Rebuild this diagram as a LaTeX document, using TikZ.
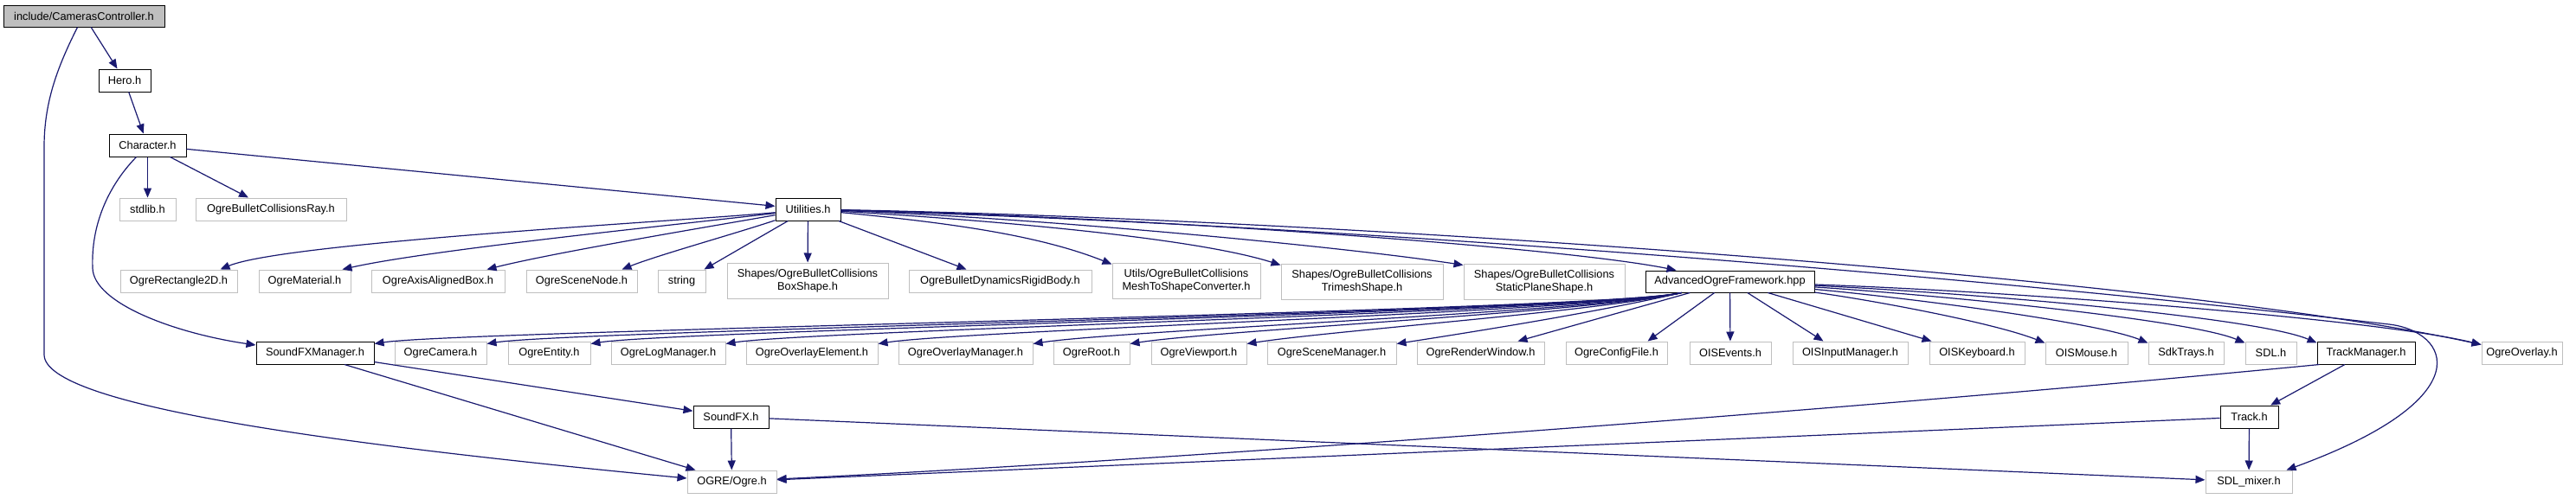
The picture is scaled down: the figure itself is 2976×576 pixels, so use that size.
\documentclass[tikz,border=0pt]{standalone}
\usepackage{fontspec}
\setmainfont{Liberation Sans}
\usetikzlibrary{arrows.meta,calc}
\definecolor{edgec}{HTML}{191970}
\definecolor{greyb}{HTML}{BFBFBF}
\begin{document}
\begin{tikzpicture}[x=1pt,y=-1pt,
  nb/.style={draw=black,line width=1.0pt,fill=white,inner sep=0pt,align=center,font=\fontsize{12.8}{15.5}\selectfont},
  gb/.style={nb,draw=greyb,line width=1.0pt},
  rootb/.style={nb,fill=greyb},
  e/.style={draw=edgec,line width=1.2pt,-{Triangle[length=11pt,width=9pt]}}]
\useasboundingbox[fill=white] (0,0) rectangle (2976,576);
% rows 0-3
\node[rootb,minimum width=186pt,minimum height=25pt] (cam) at (97,18.5) {include/CamerasController.h};
\node[nb,minimum width=60pt,minimum height=26pt] (hero) at (144,93) {Hero.h};
\node[nb,minimum width=89pt,minimum height=26pt] (chr) at (170.5,168) {Character.h};
\node[gb,minimum width=65pt,minimum height=26pt] (stdlib) at (170.5,242) {stdlib.h};
\node[gb,minimum width=174pt,minimum height=26pt] (ray) at (313,242) {OgreBulletCollisionsRay.h};
\node[nb,minimum width=75pt,minimum height=26pt] (util) at (933.5,242) {Utilities.h};
% row 4
\node[gb,minimum width=135pt,minimum height=26pt] (r2d) at (206.5,325) {OgreRectangle2D.h};
\node[gb,minimum width=106pt,minimum height=26pt] (mat) at (352,325) {OgreMaterial.h};
\node[gb,minimum width=154pt,minimum height=26pt] (aab) at (506,325) {OgreAxisAlignedBox.h};
\node[gb,minimum width=128pt,minimum height=26pt] (snode) at (672,325) {OgreSceneNode.h};
\node[gb,minimum width=55pt,minimum height=26pt] (str) at (787.5,325) {string};
\node[gb,minimum width=186pt,minimum height=41pt] (boxs) at (933,324.5) {Shapes/OgreBulletCollisions\\BoxShape.h};
\node[gb,minimum width=211pt,minimum height=26pt] (rigid) at (1155.5,325) {OgreBulletDynamicsRigidBody.h};
\node[gb,minimum width=171pt,minimum height=41pt] (mesh) at (1370.5,324.5) {Utils/OgreBulletCollisions\\MeshToShapeConverter.h};
\node[gb,minimum width=187pt,minimum height=41pt] (tri) at (1573.5,325.5) {Shapes/OgreBulletCollisions\\TrimeshShape.h};
\node[gb,minimum width=186pt,minimum height=41pt] (plane) at (1784,325.5) {Shapes/OgreBulletCollisions\\StaticPlaneShape.h};
\node[nb,minimum width=195pt,minimum height=25pt] (aof) at (1998.5,325.5) {AdvancedOgreFramework.hpp};
% row 5
\node[nb,minimum width=136pt,minimum height=26pt] (sfxm) at (364,408) {SoundFXManager.h};
\node[gb,minimum width=106pt,minimum height=26pt] (ocam) at (509,408) {OgreCamera.h};
\node[gb,minimum width=95pt,minimum height=26pt] (ent) at (634.5,408) {OgreEntity.h};
\node[gb,minimum width=132pt,minimum height=26pt] (logm) at (772,408) {OgreLogManager.h};
\node[gb,minimum width=152pt,minimum height=26pt] (ovel) at (938,408) {OgreOverlayElement.h};
\node[gb,minimum width=155pt,minimum height=26pt] (ovman) at (1115.5,408) {OgreOverlayManager.h};
\node[gb,minimum width=88pt,minimum height=26pt] (root) at (1261,408) {OgreRoot.h};
\node[gb,minimum width=110pt,minimum height=26pt] (vp) at (1385,408) {OgreViewport.h};
\node[gb,minimum width=149pt,minimum height=26pt] (sman) at (1538.5,408) {OgreSceneManager.h};
\node[gb,minimum width=147pt,minimum height=26pt] (rwin) at (1710.5,408) {OgreRenderWindow.h};
\node[gb,minimum width=117pt,minimum height=26pt] (cfg) at (1867.5,408) {OgreConfigFile.h};
\node[gb,minimum width=94pt,minimum height=26pt] (oisev) at (1999,408) {OISEvents.h};
\node[gb,minimum width=133pt,minimum height=26pt] (oisin) at (2137.5,408) {OISInputManager.h};
\node[gb,minimum width=110pt,minimum height=26pt] (oiskb) at (2284,408) {OISKeyboard.h};
\node[gb,minimum width=95pt,minimum height=26pt] (oism) at (2410.5,408) {OISMouse.h};
\node[gb,minimum width=87pt,minimum height=26pt] (sdk) at (2525.5,408) {SdkTrays.h};
\node[gb,minimum width=59pt,minimum height=26pt] (sdl) at (2623.5,408) {SDL.h};
\node[nb,minimum width=113pt,minimum height=26pt] (tman) at (2733.5,408) {TrackManager.h};
\node[gb,minimum width=93pt,minimum height=26pt] (ovl) at (2913.5,408) {OgreOverlay.h};
% rows 6-7
\node[nb,minimum width=87pt,minimum height=26pt] (sfx) at (844.5,482) {SoundFX.h};
\node[nb,minimum width=67pt,minimum height=26pt] (track) at (2598.5,482) {Track.h};
\node[gb,minimum width=103pt,minimum height=26pt] (ogre) at (845.5,557) {OGRE/Ogre.h};
\node[gb,minimum width=100pt,minimum height=26pt] (mixer) at (2598,557) {SDL\_mixer.h};

% edges top
\draw[e] (cam) -- (hero);
\draw[e] ($(cam.south west)+(86,0)$) .. controls (65,80) and (51,120) .. (51,170) -- (51,410) .. controls (51,470) and (400,515) .. ($(ogre.west)+(0,-4)$);
\draw[e] (hero) -- (chr);
\draw[e] (chr) -- (stdlib);
\draw[e] (chr) -- (ray);
\draw[e] (chr) -- (util);
\draw[e] ($(chr.south west)+(32,0)$) .. controls (125,215) and (105,260) .. (107,310) .. controls (108,350) and (200,385) .. ($(sfxm.west)+(0,-9)$);

% Utilities fan
\draw[e] (util) .. controls (800,255) and (330,280) .. ($(r2d.north east)+(-20,0)$);
\draw[e] (util) .. controls (800,258) and (500,288) .. ($(mat.north east)+(-10,0)$);
\draw[e] (util) .. controls (820,262) and (640,292) .. ($(aab.north east)+(-21,0)$);
\draw[e] (util) .. controls (850,270) and (760,295) .. ($(snode.north east)+(-18,0)$);
\draw[e] (util) -- ($(str.north east)+(-2,0)$);
\draw[e] (util) -- (boxs);
\draw[e] (util) -- ($(rigid.north west)+(67,0)$);
\draw[e] (util) .. controls (1100,258) and (1200,272) .. ($(mesh.north west)+(0,2)$);
\draw[e] (util) .. controls (1150,255) and (1380,275) .. ($(tri.north west)+(0,2)$);
\draw[e] (util) .. controls (1200,252) and (1550,285) .. ($(plane.north west)+(0,2)$);
\draw[e] (util) .. controls (1300,250) and (1800,285) .. ($(aof.north west)+(36,0)$);
\draw[e] (util) .. controls (1500,252) and (2500,318) .. ($(ovl.north west)+(0,4)$);
\draw[e] (util) .. controls (1600,262) and (2300,322) .. (2760,375) .. controls (2830,383) and (2870,460) .. ($(mixer.north east)+(-7,0)$);

% AdvancedOgreFramework fan (left)
\draw[e] (aof) .. controls (1850,360) and (532,382) .. ($(sfxm.north east)+(0,3)$);
\draw[e] (aof) .. controls (1850,360) and (662,382) .. ($(ocam.north east)+(0,3)$);
\draw[e] (aof) .. controls (1850,360) and (782,382) .. ($(ent.north east)+(0,3)$);
\draw[e] (aof) .. controls (1850,360) and (938,382) .. ($(logm.north east)+(0,3)$);
\draw[e] (aof) .. controls (1850,360) and (1114,382) .. ($(ovel.north east)+(0,3)$);
\draw[e] (aof) .. controls (1850,360) and (1293,382) .. ($(ovman.north east)+(0,3)$);
\draw[e] (aof) .. controls (1850,360) and (1405,382) .. ($(root.north east)+(0,3)$);
\draw[e] (aof) .. controls (1850,360) and (1540,382) .. ($(vp.north east)+(0,3)$);
\draw[e] (aof) .. controls (1850,360) and (1713,382) .. ($(sman.north east)+(0,3)$);
% AdvancedOgreFramework fan (right)
\draw[e] (aof) -- ($(rwin.north east)+(-31,0)$);
\draw[e] (aof) -- ($(cfg.north east)+(-23,0)$);
\draw[e] (aof) -- (oisev);
\draw[e] (aof) -- ($(oisin.north west)+(36,0)$);
\draw[e] (aof) -- ($(oiskb.north west)+(3,0)$);
\draw[e] (aof) .. controls (2150,345) and (2300,372) .. ($(oism.north west)+(0,2)$);
\draw[e] (aof) .. controls (2200,344) and (2420,372) .. ($(sdk.north west)+(0,2)$);
\draw[e] (aof) .. controls (2250,342) and (2530,370) .. ($(sdl.north west)+(0,2)$);
\draw[e] (aof) .. controls (2300,340) and (2610,368) .. ($(tman.north west)+(0,2)$);
\draw[e] (aof) .. controls (2350,338) and (2750,370) .. ($(ovl.north west)+(0,4)$);

% bottom
\draw[e] (sfxm) -- (sfx);
\draw[e] ($(sfxm.south)+(34,0)$) -- ($(ogre.north west)+(10,0)$);
\draw[e] (sfx) -- (ogre);
\draw[e] (sfx) -- (mixer);
\draw[e] (tman) -- (track);
\draw[e] ($(tman.south west)+(3,0)$) .. controls (2200,468) and (1400,530) .. ($(ogre.east)+(0,-3)$);
\draw[e] (track) -- (ogre);
\draw[e] (track) -- (mixer);
\end{tikzpicture}
\end{document}
